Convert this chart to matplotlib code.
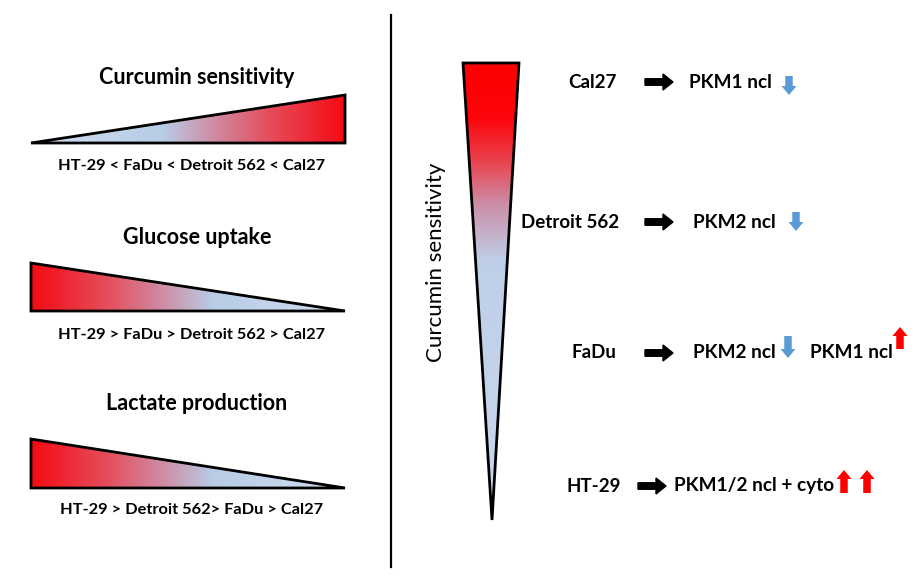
import numpy as np
import matplotlib
matplotlib.use("Agg")
import matplotlib.pyplot as plt
from matplotlib.patches import Polygon, FancyArrow
from matplotlib.colors import LinearSegmentedColormap

# ---- content ----
left_titles = ["Curcumin sensitivity", "Glucose uptake", "Lactate production"]
left_orders = ["HT-29 < FaDu < Detroit 562 < Cal27",
               "HT-29 > FaDu > Detroit 562 > Cal27",
               "HT-29 > Detroit 562> FaDu > Cal27"]
left_direction = ["up", "down", "down"]   # wedge grows to right (up) or shrinks (down)
right_axis_label = "Curcumin sensitivity"
cell_lines = ["Cal27", "Detroit 562", "FaDu", "HT-29"]
effects = [["PKM1 ncl"], ["PKM2 ncl"], ["PKM2 ncl", "PKM1 ncl"], ["PKM1/2 ncl + cyto"]]
effect_dirs = [["down"], ["down"], ["down", "up"], ["up", "up"]]

W, H = 919, 583
fig = plt.figure(figsize=(W / 100, H / 100), dpi=100)
ax = fig.add_axes([0, 0, 1, 1])
ax.set_xlim(0, W)
ax.set_ylim(H, 0)
ax.axis("off")

FONT = "Lato"
BLUE_ARROW = "#5B9BD5"
RED = "#ff0000"

# left wedges: 0 = blue end, 1 = red end
grad_h = LinearSegmentedColormap.from_list(
    "bluered",
    [(0.0, (0.82, 0.87, 0.94)), (0.42, (0.72, 0.80, 0.90)),
     (0.56, (0.80, 0.58, 0.68)), (0.76, (0.90, 0.30, 0.36)),
     (1.0, (0.96, 0.04, 0.07))])
# right wedge: 0 = top (red), 1 = bottom (blue)
grad_v = LinearSegmentedColormap.from_list(
    "redblue",
    [(0.0, (1.0, 0.0, 0.0)), (0.12, (0.99, 0.02, 0.04)),
     (0.22, (0.91, 0.28, 0.33)), (0.31, (0.80, 0.56, 0.66)),
     (0.43, (0.75, 0.81, 0.91)), (1.0, (0.79, 0.85, 0.94))])


def gradient_poly(pts, x0, x1, y0, y1, horizontal, reverse, cmap):
    poly = Polygon(pts, closed=True, facecolor="none", edgecolor="black",
                   lw=2.0, joinstyle="miter", zorder=3)
    ax.add_patch(poly)
    n = 256
    t = np.linspace(0, 1, n)
    if reverse:
        t = t[::-1]
    if horizontal:
        img = np.tile(t, (4, 1))
    else:
        img = np.tile(t[:, None], (1, 4))
    im = ax.imshow(img, cmap=cmap, vmin=0, vmax=1, extent=(x0, x1, y1, y0),
                   origin="upper", aspect="auto", interpolation="bilinear", zorder=2)
    im.set_clip_path(poly)


# divider
ax.plot([391, 391], [15, 567], color="black", lw=1.6)

# left wedges
title_y = [77, 237, 403]
tri_top = [95, 263, 439]
tri_bot = [143, 311, 488]
order_y = [166, 335, 510]
for i in range(3):
    xl, xr = 31, 345
    if left_direction[i] == "up":
        pts = [(xl, tri_bot[i]), (xr, tri_top[i]), (xr, tri_bot[i])]
        rev = False
    else:
        pts = [(xl, tri_top[i]), (xl, tri_bot[i]), (xr, tri_bot[i])]
        rev = True
    gradient_poly(pts, xl, xr, tri_top[i], tri_bot[i], True, rev, grad_h)
    ax.text(197, title_y[i], left_titles[i], ha="center", va="center",
            fontsize=15.5, fontweight="bold", family=FONT)
    ax.text(191, order_y[i], left_orders[i], ha="center", va="center",
            fontsize=11.8, fontweight="bold", family=FONT)

# right wedge (red top -> blue bottom)
pts = [(463, 63), (519, 63), (492, 520)]
gradient_poly(pts, 463, 519, 63, 520, False, False, grad_v)
ax.text(436, 262, right_axis_label, ha="center", va="center", rotation=90,
        fontsize=16, family=FONT)

row_y = [82, 222, 353, 486]
name_x = [592, 570, 594, 594]
arrow_x = [(645, 673), (645, 673), (645, 673), (638, 666)]
effect_x = [[689], [693], [693, 810], [674]]
sym_x = [[789], [796], [788, 900], [844, 867]]
sym_y = [[(76, 95)], [(212, 231)], [(336, 358)], [(470, 493), (470, 493)]]
fup_y = (327, 349)

for i, name in enumerate(cell_lines):
    y = row_y[i]
    ax.text(name_x[i], y, name, ha="center", va="center", fontsize=13.5,
            fontweight="bold", family=FONT)
    a0, a1 = arrow_x[i]
    ax.add_patch(FancyArrow(a0, y, a1 - a0, 0, width=6.5, head_width=16,
                            head_length=10, length_includes_head=True,
                            color="black", zorder=3))
    for j, txt in enumerate(effects[i]):
        ax.text(effect_x[i][j], y, txt, ha="left", va="center", fontsize=13.7,
                fontweight="bold", family=FONT)
    for j, d in enumerate(effect_dirs[i]):
        xs = sym_x[i][j]
        if i == 2 and d == "up":
            ya, yb = fup_y
        else:
            ya, yb = sym_y[i][min(j, len(sym_y[i]) - 1)]
        if d == "down":
            ax.add_patch(FancyArrow(xs, ya, 0, yb - ya, width=7.5, head_width=15,
                                    head_length=9, length_includes_head=True,
                                    color=BLUE_ARROW, lw=0, zorder=3))
        else:
            ax.add_patch(FancyArrow(xs, yb, 0, ya - yb, width=7.5, head_width=15,
                                    head_length=9, length_includes_head=True,
                                    color=RED, lw=0, zorder=3))

fig.savefig("out.png", dpi=100, facecolor="white")
